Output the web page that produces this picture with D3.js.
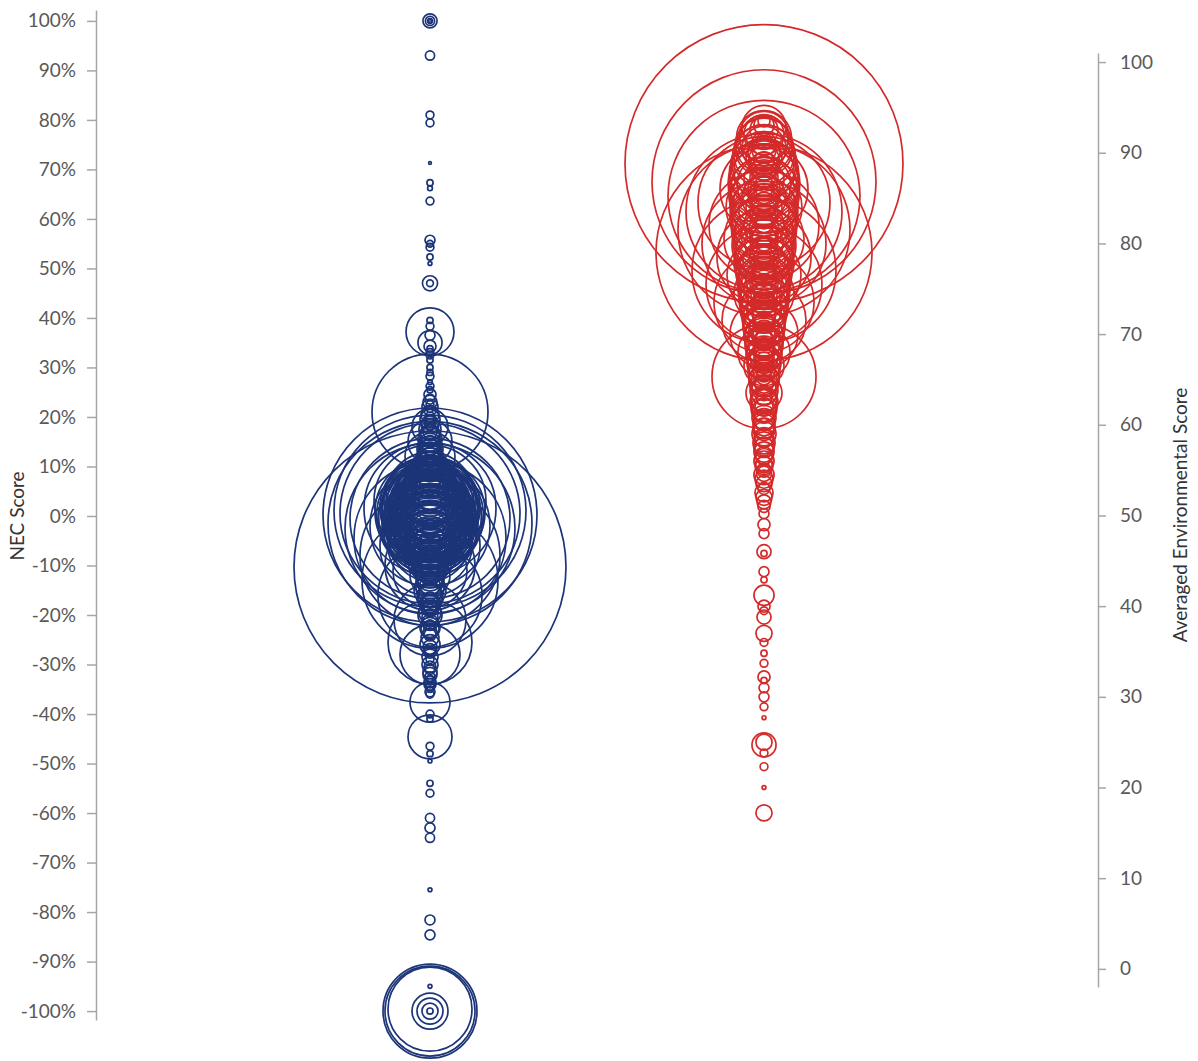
<!DOCTYPE html>
<html>
<head>
<meta charset="utf-8">
<script src="https://cdn.jsdelivr.net/npm/d3@7"></script>
<style>
  body { margin: 0; background: #fff; }
  svg { display: block; }
  .axis text { font-family: Lato, "Open Sans", sans-serif; font-size: 19px; fill: #595959; }
  .axis path, .axis line { stroke: #a6a6a6; stroke-width: 1.5; }
  .title { font-family: Lato, "Open Sans", sans-serif; font-size: 19px; fill: #333; }
</style>
</head>
<body>
<svg id="chart" width="1198" height="1061"></svg>
<script>
// x position of each series (hidden category axis 0..3)
var seriesX = [1, 2];

var necTicks = [100, 90, 80, 70, 60, 50, 40, 30, 20, 10, 0, -10, -20, -30, -40, -50, -60, -70, -80, -90, -100];
var envTicks = [0, 10, 20, 30, 40, 50, 60, 70, 80, 90, 100];

// NEC score (%) and bubble size, blue series
var necScore = [
  100, 100, 100, 100, 93, 81, 79.4, 71.3, 67.3, 66.2, 63.6, 55.7, 55, 54.3, 52.3, 51, 47, 47,
  39.5, 38.3, 37.2, 36.5, 35, 34.3, 33, 31.5, 30, 28.2, 27, 25.5, 23.6, 22.5, 21, 21.5, 20, 19,
  18, 17, 16, 15, 14, 13, 12, 11, 10, 9, 8, 7, 6, 5, 4, 3, 2, 1, 0,
  15, 12, 18,
  -10.3, 0.2, -1.5, 1, 0.5, -2.5, -0.5, -4.5, -8, 1.5, -13, -2, 3, -16, -6, 2, -3, 4, -1, 0,
  -5, 1, -2, 5, 0.5, -3.5, 2.5, -1, -7, 6, 0, -4, 3, -9, 1, 8, -1.5, -10, -6, -11,
  0.8, -0.8, 1.8, -1.8, 2.8, -2.8, 0.3, -0.3, 1.2, -1.2, 2.2, -2.2, 3.5, -3.2, 0.6, -0.6,
  4.5, -4.8, 1.6, -1.6, 2.6, -2.6, 5.5, -5.5, 0.4, -0.4, 3.8, -3.8, 6.5, -6.5, 1.4, -1.4,
  7.5, -7.5, 9.5, -8.5, 10.5, -10.5, 4.2, -4.2,
  0.1, -0.1, 0.7, -0.7, 1.3, -1.3, 1.9, -1.9, 2.4, -2.4, 3.1, -3.1, 0.9, -0.9, 1.7, -1.7,
  2.9, -2.9, 3.6, -3.6, 0.2, -0.2, 4.1, -4.1, 5.1, -5.1, 6.1, -6.1, 7.1, -7.1, 8.1, -8.1,
  9.1, -9.1, 0.5, -0.5, 1.1, -1.1, 2.1, -2.1,
  24.5, 23, 22, 20.5, 19.5, 18.5, 17.5, 16.5, 15.5, 14.5, 13.5, 12.5, 11.5, 10.5, 26.2, 29, 32.5, 33.8,
  -11.5, -12.5, -13.5, -14.5, -15.5, -16.5, -17.5, -18.5, -19.5, -20.5, -22.5, -23.5, -24.5,
  -26.5, -27.5, -28.5, -30.5, -31.5, -32.5, -33.5, -34.5, -35.5,
  -12, -13, -14, -15, -16, -17, -18, -19, -20, -21, -21.5, -22, -23, -24, -25.5, -26, -27, -28,
  -29, -30, -31, -32, -33, -34, -35, -36, -37.6, -40, -41, -44.6, -46.5, -48, -49.5, -54, -56,
  -61, -63, -65, -75.5, -81.6, -84.6, -95,
  -100, -100, -99.6, -100, -100, -100, -100
];
var necSize = [
  26, 11, 3, 1, 11, 8, 8, 1, 5, 3, 8, 13, 6, 8, 5, 2, 30, 6,
  5, 8, 302, 13, 76, 19, 8, 5, 5, 8, 3, 5, 13, 8, 1766, 5, 13, 19,
  8, 26, 53, 19, 34, 76, 43, 103, 53, 134, 210, 89, 302, 170, 473, 355, 643, 538, 758,
  254, 328, 170,
  9710, 6011, 5462, 4838, 4253, 3793, 3360, 3032, 2573, 2287, 2428, 1890, 1646, 1420, 1313, 1210, 1111, 1016, 926, 840,
  840, 758, 680, 607, 572, 538, 473, 442, 412, 383, 355, 328, 302, 254, 254, 210, 210, 1063, 926, 719,
  1588, 1420, 1313, 1210, 1111, 1016, 926, 883, 840, 758, 719, 680, 643, 607, 572, 538,
  473, 473, 442, 412, 383, 355, 328, 328, 302, 278, 254, 254, 232, 232, 210, 210,
  190, 190, 152, 170, 134, 134, 170, 152,
  1500, 1380, 1260, 1150, 1050, 980, 900, 860, 800, 740, 700, 660, 620, 590, 560, 520,
  500, 480, 450, 430, 400, 390, 370, 350, 340, 320, 300, 290, 270, 260, 240, 230,
  200, 190, 700, 650, 1200, 1100, 1000, 950,
  19, 26, 34, 43, 53, 43, 64, 53, 76, 64, 89, 76, 103, 89, 8, 5, 8, 5,
  118, 89, 76, 103, 64, 89, 53, 43, 64, 34, 53, 26, 43,
  26, 19, 34, 19, 26, 13, 19, 8, 13,
  210, 103, 53, 134, 76, 34, 53, 19, 76, 680, 34, 13, 43, 19, 926, 53, 19, 473,
  8, 34, 13, 26, 8, 19, 5, 8, 210, 8, 5, 254, 8, 5, 2, 5, 8,
  11, 13, 11, 2, 13, 13, 2,
  1160, 1063, 926, 170, 89, 34, 5
];

// Averaged environmental score and bubble size, red series
var envScore = [
  88.8, 86.8, 85.2, 79, 81.5, 83.5, 77, 84.5, 80, 75.5, 82, 65.3, 73.5, 78.5, 86, 71.5, 80.5, 84,
  76.5, 70, 82.5, 88, 74.5, 79.5, 91.5, 90.5, 92, 86.5, 68, 83.5, 77, 73, 81, 71, 66.5, 63.5,
  89.5, 87, 85, 84, 82, 80, 78, 76, 75, 74, 72.5, 70.5, 69, 67.5, 65, 64, 62.5, 61.5,
  60.5, 59.5, 58.5, 57.5, 56.5, 56, 55, 54, 53, 52, 51, 50.2, 49, 48, 46, 45.8, 43.8, 42.9,
  41.2, 40, 39.5, 38.8, 37, 36, 34.8, 33.7, 32.2, 31.8, 31, 30, 28.9, 27.7, 24.7, 25, 23.8, 22.3,
  20, 17.2,
  93.5, 93, 92.5, 91, 90, 89, 88.5, 87.5, 86, 85.5, 84.5, 83, 82.5, 81.5, 80.5, 79, 78.5, 77.5,
  76.5, 75.5, 74.5, 73.5, 72, 71.5, 70, 69.5, 68.5, 67, 66, 65.5, 64.5, 63, 62,
  92.8, 91.8, 90.8, 89.8, 88.8, 87.8, 86.8, 85.8, 84.8, 83.8, 82.8, 81.8, 80.8, 79.8, 78.8,
  77.8, 76.8, 75.8, 74.8, 73.8, 72.8, 71.8, 70.8, 69.8, 68.8, 67.8, 66.8, 65.8, 64.8, 63.8,
  62.8, 61.8, 60.8, 60, 59, 58, 57, 55.5, 54.5, 53.5, 52.5, 51.5,
  91.3, 90.3, 89.3, 88.3, 87.3, 86.3, 85.3, 84.3, 83.3, 82.3, 81.3, 80.3, 79.3, 78.3, 77.3,
  76.3, 75.3, 74.3, 73.3, 72.3, 71.3, 70.3, 69.3, 68.3, 67.3, 66.3, 65.3,
  91.6, 90.6, 89.6, 88.6, 87.6, 86.6, 85.6, 84.6, 83.6, 82.6, 81.6, 80.6, 79.6, 78.6, 77.6,
  76.6, 75.6, 74.6, 73.6, 72.6, 71.6, 70.6, 69.6, 68.6, 67.6, 66.6, 65.6, 64.6, 63.6, 62.6,
  61.6, 60.6, 59.6, 58.6, 57.6, 56.6, 55.6, 54.6
];
var envSize = [
  10144, 6586, 4838, 6124, 3883, 3194, 2722, 2287, 2018, 1766, 1588, 1420, 1313, 1160, 1016, 926, 840, 758,
  719, 607, 538, 473, 473, 412, 302, 254, 210, 383, 355, 328, 328, 278, 278, 232, 210, 170,
  170, 210, 254, 170, 210, 190, 232, 170, 210, 134, 152, 118, 134, 103, 118, 76, 103, 76,
  53, 64, 43, 53, 34, 53, 26, 43, 19, 34, 19, 13, 19, 13, 26, 5, 13, 5,
  53, 19, 8, 26, 34, 8, 5, 8, 19, 5, 13, 13, 8, 2, 76, 34, 8, 8,
  2, 34,
  19, 53, 103, 76, 134, 53, 103, 76, 134, 53, 103, 76, 34, 118, 76, 103, 53, 89,
  64, 103, 53, 76, 64, 43, 76, 34, 53, 43, 64, 26, 43, 34, 43,
  254, 328, 412, 473, 538, 607, 643, 607, 572, 538, 607, 538, 473, 538, 442,
  473, 412, 383, 355, 328, 302, 254, 232, 210, 190, 170, 152, 134, 118, 103,
  89, 89, 76, 64, 76, 64, 53, 43, 53, 34, 43, 26,
  34, 76, 118, 76, 103, 53, 118, 76, 103, 53, 89, 103, 76, 118, 64,
  89, 76, 89, 64, 76, 53, 64, 53, 43, 53, 43, 34,
  400, 450, 520, 580, 640, 680, 660, 620, 600, 580, 560, 520, 480, 460, 420,
  400, 360, 330, 300, 270, 240, 220, 200, 180, 160, 140, 120, 100, 90, 80,
  70, 60, 55, 50, 45, 40, 35, 30
];

var svg = d3.select("#chart");

var x = d3.scaleLinear().domain([0, 3]).range([96, 1098]);
var yLeft = d3.scaleLinear().domain([-101.8, 102.2]).range([1020, 10]);
var yRight = d3.scaleLinear().domain([-2, 101]).range([987, 53]);
var r = d3.scaleSqrt().domain([0, 10000]).range([0, 138]);

function bubbles(values, sizes, y, cx, color) {
  var data = values.map(function (v, i) { return { v: v, s: sizes[i] }; })
    .sort(function (a, b) { return b.s - a.s; });
  svg.append("g").selectAll("circle")
    .data(data)
    .enter().append("circle")
    .attr("cx", x(cx))
    .attr("cy", function (d) { return y(d.v); })
    .attr("r", function (d) { return r(d.s); })
    .attr("fill", "none")
    .attr("stroke", color)
    .attr("stroke-width", 1.7);
}

bubbles(necScore, necSize, yLeft, seriesX[0], "#1c3478");
bubbles(envScore, envSize, yRight, seriesX[1], "#d42a2a");

svg.append("g")
  .attr("class", "axis")
  .attr("transform", "translate(" + x(0) + ",0)")
  .call(d3.axisLeft(yLeft).tickValues(necTicks).tickSize(9).tickSizeOuter(0).tickPadding(11)
    .tickFormat(function (d) { return d + "%"; }));

svg.append("g")
  .attr("class", "axis")
  .attr("transform", "translate(" + x(3) + ",0)")
  .call(d3.axisRight(yRight).tickValues(envTicks).tickSize(8).tickSizeOuter(0).tickPadding(14));

svg.append("text")
  .attr("class", "title")
  .attr("transform", "translate(24,516) rotate(-90)")
  .attr("text-anchor", "middle")
  .text("NEC Score");

svg.append("text")
  .attr("class", "title")
  .attr("transform", "translate(1187,515) rotate(-90)")
  .attr("text-anchor", "middle")
  .text("Averaged Environmental Score");
</script>
</body>
</html>
